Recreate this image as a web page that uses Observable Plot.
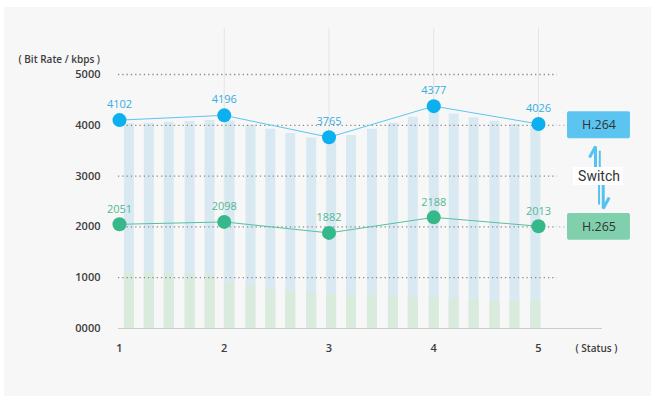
<!DOCTYPE html>
<html>
<head>
<meta charset="utf-8">
<script src="https://cdn.jsdelivr.net/npm/d3@7"></script>
<script src="https://cdn.jsdelivr.net/npm/@observablehq/plot@0.6"></script>
<style>
  html, body { margin: 0; padding: 0; background: #ffffff; }
  #wrap { position: relative; width: 651px; height: 410px; overflow: hidden; }
  #panel { position: absolute; left: 4px; top: 7px; width: 647px; height: 389px; background: #f7f7f7; }
  #chart { position: absolute; left: 0; top: 0; }
</style>
</head>
<body>
<div id="wrap"><div id="panel"></div><div id="chart"></div></div>
<script>
// ---- data ----
const statuses = [1, 2, 3, 4, 5];
const h264 = [4102, 4196, 3765, 4377, 4026];
const h265 = [2051, 2098, 1882, 2188, 2013];
const yTicks = [0, 1000, 2000, 3000, 4000, 5000];
const yTickLabels = ["0000", "1000", "2000", "3000", "4000", "5000"];
const xTickLabels = ["1", "2", "3", "4", "5"];
const barPositions = [1.09, 1.28, 1.47, 1.67, 1.86, 2.05, 2.25, 2.44, 2.63, 2.83, 3.02,
                      3.21, 3.41, 3.61, 3.80, 4.00, 4.19, 4.38, 4.58, 4.77, 4.97];
const blueBarTops = [4030, 4040, 4060, 4075, 4095, 4085, 4000, 3920, 3840, 3750, 3690,
                     3800, 3920, 4040, 4160, 4270, 4220, 4150, 4080, 4020, 3950];
const greenBarTops = [1100, 1095, 1085, 1075, 1060, 900, 830, 770, 730, 700, 670,
                      660, 650, 630, 610, 600, 590, 570, 560, 550, 540];
const legendNames = ["H.264", "H.265"];
const legendLevels = [4000, 2000];
const yTitle = "( Bit Rate / kbps )";
const xTitle = "( Status )";
const switchLabel = "Switch";
// harpoon arrows of the "Switch" indicator (in chart units)
const upHarpoon = [{x: 5.544, y: 3071}, {x: 5.544, y: 3583}, {x: 5.487, y: 3366}];
const upHarpoon2 = [{x: 5.585, y: 3071}, {x: 5.585, y: 3500}];
const downHarpoon = [{x: 5.618, y: 2874}, {x: 5.618, y: 2362}, {x: 5.675, y: 2579}];
const downHarpoon2 = [{x: 5.578, y: 2874}, {x: 5.578, y: 2440}];

// ---- styling ----
const blue = "#0cb0ef", blueLine = "#5cc6ef", blueText = "#36ade0";
const green = "#36b88a", greenLine = "#55c29c", greenText = "#52b892";
const legendFill = ["#5cc4f1", "#80d0ae"];
const arrowBlue = "#55c2f1";
const legendX1 = 5.277, legendX2 = 5.878, legendXC = 5.578;

const series264 = statuses.map((s, i) => ({s, v: h264[i]}));
const series265 = statuses.map((s, i) => ({s, v: h265[i]}));
const bars = barPositions.map((p, i) => ({p, b: blueBarTops[i], g: greenBarTops[i]}));
const legend = legendNames.map((n, i) => ({n, lv: legendLevels[i], fill: legendFill[i]}));

const chart = Plot.plot({
  width: 651,
  height: 410,
  marginLeft: 119,
  marginRight: 113,
  marginTop: 74,
  marginBottom: 82,
  style: {background: "transparent", fontFamily: "Open Sans", fontSize: "11px", overflow: "visible"},
  x: {domain: [1, 5], axis: null},
  y: {domain: [0, 5000], axis: null},
  marks: [
    // vertical grid
    Plot.ruleX(statuses.slice(1), {x: d => d, y1: 0, y2: 5900, stroke: "#e3e3e3", strokeWidth: 1}),
    // background bars
    Plot.ruleX(bars, {x: "p", y1: 0, y2: "b", stroke: "#d9e9f2", strokeWidth: 10}),
    Plot.ruleX(bars, {x: "p", y1: 0, y2: "g", stroke: "#d8ebdd", strokeWidth: 10}),
    // dotted horizontal grid
    Plot.ruleY(yTicks.slice(1), {y: d => d, x1: 0.99, x2: 5.18, stroke: "#8a8a8a", strokeWidth: 1.3, strokeDasharray: "1.3 3"}),
    Plot.ruleY(legendLevels, {y: d => d, x1: 5.2, x2: 5.26, stroke: "#b0b0b0", strokeWidth: 1, strokeDasharray: "1.3 3"}),
    // baseline
    Plot.ruleY([0], {y: d => d, x1: 0.99, x2: 5.61, stroke: "#cccccc", strokeWidth: 1}),
    // y tick labels
    Plot.text(yTicks, {y: d => d, text: (d, i) => yTickLabels[i], frameAnchor: "left", dx: -19, textAnchor: "end", fill: "#3c3c3c", fontWeight: 600, fontSize: 11}),
    // x tick labels
    Plot.text(statuses, {x: d => d, text: (d, i) => xTickLabels[i], frameAnchor: "bottom", dy: 23, fill: "#3c3c3c", fontWeight: 600, fontSize: 11}),
    // axis titles
    Plot.text([yTitle], {text: d => d, frameAnchor: "top-left", dx: -101, dy: -19, textAnchor: "start", fill: "#3c3c3c", fontWeight: 600, fontSize: 10}),
    Plot.text([xTitle], {text: d => d, frameAnchor: "bottom-right", dx: 37, dy: 23, textAnchor: "start", fill: "#3c3c3c", fontWeight: 600, fontSize: 10}),
    // lines
    Plot.line(series264, {x: "s", y: "v", stroke: blueLine, strokeWidth: 1}),
    Plot.line(series265, {x: "s", y: "v", stroke: greenLine, strokeWidth: 1}),
    Plot.dot(series264, {x: "s", y: "v", r: 7, fill: blue}),
    Plot.dot(series265, {x: "s", y: "v", r: 7, fill: green}),
    Plot.text(series264, {x: "s", y: "v", text: d => String(d.v), dy: -16, fill: blueText, fontSize: 11}),
    Plot.text(series265, {x: "s", y: "v", text: d => String(d.v), dy: -15, fill: greenText, fontSize: 11}),
    // legend boxes
    Plot.rect(legend, {x1: legendX1, x2: legendX2, y1: d => d.lv - 265, y2: d => d.lv + 265, fill: d => d.fill, rx: 2}),
    Plot.text(legend, {x: legendXC, y: "lv", text: "n", fill: "#333333", fontSize: 12.5}),
    // switch indicator
    Plot.line(upHarpoon, {x: "x", y: "y", stroke: arrowBlue, strokeWidth: 3, strokeLinejoin: "miter", strokeLinecap: "butt"}),
    Plot.line(upHarpoon2, {x: "x", y: "y", stroke: arrowBlue, strokeWidth: 2, strokeLinecap: "butt"}),
    Plot.line(downHarpoon, {x: "x", y: "y", stroke: arrowBlue, strokeWidth: 3, strokeLinejoin: "miter", strokeLinecap: "butt"}),
    Plot.line(downHarpoon2, {x: "x", y: "y", stroke: arrowBlue, strokeWidth: 2, strokeLinecap: "butt"}),
    Plot.rect([switchLabel], {x1: 5.334, x2: 5.81, y1: 2815, y2: 3169, fill: "#ffffff"}),
    Plot.text([switchLabel], {x: legendXC, y: 3000, text: d => d, fill: "#333333", fontSize: 14, fontFamily: "Roboto"})
  ]
});
document.getElementById("chart").appendChild(chart);
</script>
</body>
</html>
